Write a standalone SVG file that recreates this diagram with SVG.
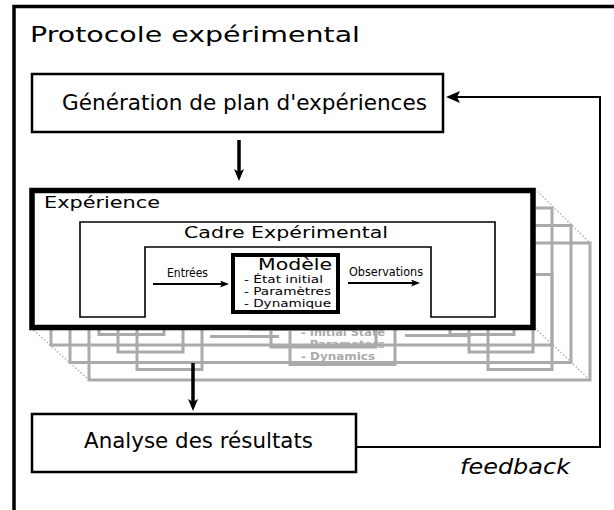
<svg xmlns="http://www.w3.org/2000/svg" xmlns:xlink="http://www.w3.org/1999/xlink" width="614" height="510" viewBox="0 0 614 510">
<style>
text{font-family:"DejaVu Sans","Liberation Sans",sans-serif;fill:#000}
.big{font-size:21.5px}
.cond{font-family:"DejaVu Sans Condensed","DejaVu Sans",sans-serif;font-stretch:condensed;font-size:11.5px}
.small{font-size:10.5px}
.gt{fill:#aaa;font-weight:bold;font-size:10px}
.box{fill:#fff;stroke:#000;stroke-width:2.5}
.conn{fill:none;stroke:#000}
.dot{fill:none;stroke:#b4b4b4;stroke-width:1.5;stroke-dasharray:1.5 2}
</style>
<defs>
<marker id="ah" viewBox="0 0 12 10" refX="3" refY="5" markerWidth="12" markerHeight="10" orient="auto" markerUnits="userSpaceOnUse"><path d="M0,0 L12,5 L0,10 L3,5 z" fill="#000"/></marker>
<marker id="ahf" viewBox="0 0 14 12" refX="3" refY="6" markerWidth="14" markerHeight="12" orient="auto" markerUnits="userSpaceOnUse"><path d="M0,0 L14,6 L0,12 L3,6 z" fill="#000"/></marker>
<marker id="ahs" viewBox="0 0 9 7" refX="2" refY="3.5" markerWidth="9" markerHeight="7" orient="auto" markerUnits="userSpaceOnUse"><path d="M0,0 L9,3.5 L0,7 L2,3.5 z" fill="#000"/></marker>
<g id="ghost" fill="none" stroke="#aaa" stroke-width="3">
<rect x="32" y="190.5" width="501" height="137"/>
<path d="M80,248 V222 H495 V317 H431 V247 H145 V317 H80 Z"/>
<rect x="233" y="255" width="105" height="57"/>
<path d="M153,284 H222 M348,283 H414"/>
</g>
</defs>

<g id="frame">
<path d="M14,510 V6.5 H614" fill="none" stroke="#000" stroke-width="3.5"/>
<text x="30" y="42" style="font-size:21px" textLength="330" lengthAdjust="spacingAndGlyphs">Protocole expérimental</text>
</g>

<g id="generation">
<rect class="box" x="32" y="74" width="411" height="58"/>
<text class="big" x="62" y="110" textLength="365" lengthAdjust="spacingAndGlyphs">Génération de plan d'expériences</text>
</g>

<g id="ghosts">
<line class="dot" x1="31" y1="328" x2="89" y2="380"/>
<line class="dot" x1="535" y1="189" x2="590" y2="243"/>
<line class="dot" x1="535" y1="328" x2="590" y2="380"/>
<use xlink:href="#ghost" transform="translate(57,52.5)"/>
<use xlink:href="#ghost" transform="translate(38,35)"/>
<use xlink:href="#ghost" transform="translate(19,17.5)"/>
<text class="gt" x="301" y="335.5" textLength="84" lengthAdjust="spacingAndGlyphs">- Initial State</text>
<text class="gt" x="301" y="347.5" textLength="84" lengthAdjust="spacingAndGlyphs">- Parameters</text>
<text class="gt" x="301" y="359.5" textLength="74" lengthAdjust="spacingAndGlyphs">- Dynamics</text>
</g>

<g id="experience">
<rect x="32" y="190.5" width="501" height="137" fill="#fff" stroke="#000" stroke-width="5.5"/>
<text x="44" y="208" style="font-size:15px" textLength="116" lengthAdjust="spacingAndGlyphs">Expérience</text>
</g>

<g id="cadre">
<path d="M80,248 V222 H495 V317 H431 V247 H145 V317 H80 Z" fill="none" stroke="#000" stroke-width="1.6"/>
<text x="184" y="238" style="font-size:16px" textLength="204" lengthAdjust="spacingAndGlyphs">Cadre Expérimental</text>
<text class="cond" x="167" y="277" textLength="41" lengthAdjust="spacingAndGlyphs">Entrées</text>
<text class="cond" x="349" y="276" textLength="74" lengthAdjust="spacingAndGlyphs">Observations</text>
</g>

<g id="modele">
<rect x="233" y="255" width="105" height="57" fill="#fff" stroke="#000" stroke-width="4"/>
<text x="258" y="270" style="font-size:15.5px" textLength="74" lengthAdjust="spacingAndGlyphs">Modèle</text>
<text class="small" x="244" y="283" textLength="79" lengthAdjust="spacingAndGlyphs">- État initial</text>
<text class="small" x="244" y="295" textLength="87" lengthAdjust="spacingAndGlyphs">- Paramètres</text>
<text class="small" x="244" y="307" textLength="87" lengthAdjust="spacingAndGlyphs">- Dynamique</text>
</g>

<g id="analyse">
<rect class="box" x="32" y="414" width="324" height="58"/>
<text class="big" x="84" y="448" textLength="229" lengthAdjust="spacingAndGlyphs">Analyse des résultats</text>
</g>

<g id="connectors">
<line class="conn" x1="239" y1="140" x2="239" y2="172" stroke-width="3.5" marker-end="url(#ah)"/>
<line class="conn" x1="193" y1="363" x2="193" y2="402" stroke-width="3.5" marker-end="url(#ah)"/>
<line class="conn" x1="153" y1="284" x2="222" y2="284" stroke-width="2" marker-end="url(#ahs)"/>
<line class="conn" x1="348" y1="283" x2="413" y2="283" stroke-width="2" marker-end="url(#ahs)"/>
<path class="conn" d="M356,447 H600 V97 H457" stroke-width="2" marker-end="url(#ahf)"/>
<text x="460" y="474" style="font-size:21px;font-style:italic" textLength="110" lengthAdjust="spacingAndGlyphs">feedback</text>
</g>
</svg>
